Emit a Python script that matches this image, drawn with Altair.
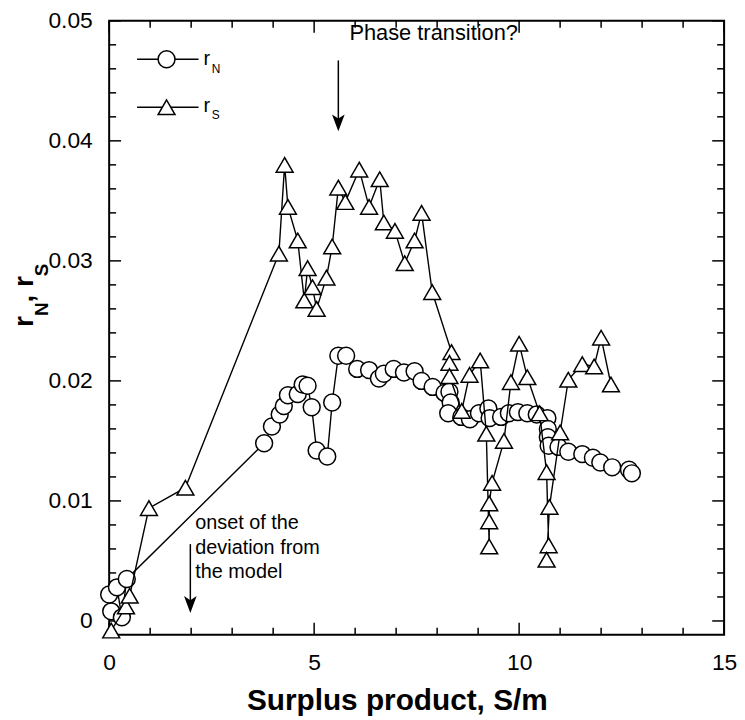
import altair as alt
import pandas as pd

# ---------------- data ----------------
rn_x = [0.05, 0.0, 0.19, 0.31, 0.43, 3.78, 3.97, 4.16, 4.26, 4.36, 4.6, 4.72, 4.84, 4.94, 5.06,
        5.32, 5.44, 5.59, 5.78, 6.05, 6.34, 6.58, 6.7, 6.94, 7.19, 7.45, 7.62, 7.89, 8.18, 8.3,
        8.33, 8.27, 8.59, 8.8, 9.02, 9.25, 9.28, 9.56, 9.75, 9.97, 10.2, 10.43, 10.69, 10.7, 10.7,
        10.72, 10.96, 11.2, 11.54, 11.8, 11.98, 12.27, 12.68, 12.75]
rn_y = [0.0008, 0.0022, 0.0028, 0.0003, 0.0035, 0.0148, 0.0162, 0.0172, 0.0179, 0.0188, 0.0189,
        0.0197, 0.0196, 0.0178, 0.0142, 0.0137, 0.0182, 0.0221, 0.0221, 0.0210, 0.0209, 0.0202,
        0.0206, 0.0210, 0.0207, 0.0208, 0.0200, 0.0195, 0.0190, 0.0191, 0.0182, 0.0173, 0.0170,
        0.0168, 0.0173, 0.0177, 0.0169, 0.0170, 0.0173, 0.0174, 0.0173, 0.0172, 0.0169, 0.0160,
        0.0153, 0.0146, 0.0145, 0.0141, 0.0139, 0.0136, 0.0132, 0.0128, 0.0126, 0.0123]

rs_x = [0.05, 0.41, 0.5, 0.97, 1.86, 4.14, 4.28, 4.36, 4.6, 4.76, 4.84, 4.96, 5.06, 5.3, 5.44,
        5.59, 5.76, 6.1, 6.34, 6.6, 6.7, 6.97, 7.21, 7.45, 7.62, 7.88, 8.35, 8.3, 8.3, 8.6,
        8.79, 9.05, 9.2, 9.27, 9.27, 9.27, 9.34, 9.63, 9.8, 10.0, 10.2, 10.5, 10.67, 10.72, 10.67,
        10.74, 11.0, 11.2, 11.54, 11.83, 12.0, 12.24]
rs_y = [-0.0008, 0.0012, 0.0021, 0.0094, 0.0111, 0.0306, 0.0380, 0.0345, 0.0317, 0.0267, 0.0294,
        0.0278, 0.0260, 0.0286, 0.0312, 0.0361, 0.0349, 0.0376, 0.0345, 0.0368, 0.0332, 0.0325,
        0.0298, 0.0317, 0.0340, 0.0274, 0.0224, 0.0215, 0.0204, 0.0175, 0.0205, 0.0217, 0.0156,
        0.0062, 0.0083, 0.0098, 0.0115, 0.0150, 0.0199, 0.0231, 0.0203, 0.0173, 0.0124, 0.0063,
        0.0051, 0.0095, 0.0157, 0.0201, 0.0214, 0.0212, 0.0236, 0.0197]

x_major = [0, 5, 10, 15]
x_minor = [1, 2, 3, 4, 6, 7, 8, 9, 11, 12, 13, 14]
y_major = [0.0, 0.01, 0.02, 0.03, 0.04, 0.05]
y_minor = [0.002, 0.004, 0.006, 0.008, 0.012, 0.014, 0.016, 0.018, 0.022, 0.024, 0.026, 0.028,
           0.032, 0.034, 0.036, 0.038, 0.042, 0.044, 0.046, 0.048]

x_domain = [0, 15]
y_domain = [-0.00115, 0.05]

# annotations (data coordinates)
phase_text = ["Phase transition?"]
phase_pos = [5.86, 0.0490]
onset_lines = ["onset of the", "deviation from", "the model"]
onset_x = [2.1, 2.1, 2.1]
onset_y = [0.00765, 0.00560, 0.00355]
arrow_x = [5.59, 1.98]
arrow_top = [0.0467, 0.0064]
arrow_head = [0.0415, 0.00137]

legend_y = [0.0468, 0.0428]
legend_line_x = [0.68, 2.18]
legend_mark_x = 1.40
legend_r_x = 2.30
legend_sub_x = 2.50
legend_r_base = [0.0463, 0.0424]
legend_sub_base = [0.04565, 0.04185]
legend_sub = ["N", "S"]

ytitle_text = ["r", "N", ",", "r", "S"]
ytitle_x = [-1.86, -1.50, -1.86, -1.86, -1.50]
ytitle_y = [0.0245, 0.02541, 0.02654, 0.02782, 0.02872]
ytitle_fs = [28, 19, 28, 28, 19]

# ---------------- chart ----------------
FONT = "Liberation Sans"
W, H = 620, 619
xs = alt.Scale(domain=x_domain, nice=False, zero=False)
ys = alt.Scale(domain=y_domain, nice=False, zero=False)

X_AX = alt.Axis(values=x_major, format="d", ticks=False, domain=False, grid=False,
                labelFont=FONT, labelFontSize=23, labelColor="black", labelPadding=17,
                labelFlush=False,
                title="Surplus product, S/m", titleFont=FONT, titleFontSize=30,
                titleFontWeight="bold", titleColor="black", titlePadding=11,
                titleX=290, titleAlign="center")
Y_AX = alt.Axis(values=y_major, format=".2~f", ticks=False, domain=False, grid=False,
                labelFont=FONT, labelFontSize=23, labelColor="black", labelPadding=17,
                labelFlush=False, title=None)


def X(field):
    return alt.X(field, scale=xs, axis=X_AX)


def Y(field):
    return alt.Y(field, scale=ys, axis=Y_AX)


layers = []

# inward ticks on all four sides
for vals, ln in [(x_major, 12), (x_minor, 7)]:
    d = pd.DataFrame({"v": vals})
    layers.append(alt.Chart(d).mark_rule(color="black", strokeWidth=1.5).encode(
        x=X("v:Q"), y=alt.value(H), y2=alt.value(H - ln)))
    layers.append(alt.Chart(d).mark_rule(color="black", strokeWidth=1.5).encode(
        x=X("v:Q"), y=alt.value(0), y2=alt.value(ln)))
for vals, ln in [(y_major, 12), (y_minor, 7)]:
    d = pd.DataFrame({"v": vals})
    layers.append(alt.Chart(d).mark_rule(color="black", strokeWidth=1.5).encode(
        y=Y("v:Q"), x=alt.value(0), x2=alt.value(ln)))
    layers.append(alt.Chart(d).mark_rule(color="black", strokeWidth=1.5).encode(
        y=Y("v:Q"), x=alt.value(W), x2=alt.value(W - ln)))

rn_df = pd.DataFrame({"x": rn_x, "y": rn_y, "i": range(len(rn_x))})
rs_df = pd.DataFrame({"x": rs_x, "y": rs_y, "i": range(len(rs_x))})

# legend
leg_lines = pd.DataFrame({"x0": [legend_line_x[0]] * 2, "x1": [legend_line_x[1]] * 2,
                          "y": legend_y})
layers.append(alt.Chart(leg_lines).mark_rule(color="black", strokeWidth=1.5).encode(
    x=X("x0:Q"), x2="x1:Q", y=Y("y:Q")))


def series(df, shape, leg_y):
    out = [alt.Chart(df).mark_line(color="black", strokeWidth=1.4).encode(
        x=X("x:Q"), y=Y("y:Q"), order="i:Q")]
    pts = alt.Chart(df).mark_point(shape=shape, filled=True, fill="white", stroke="black",
                                   strokeWidth=1.5, size=290, opacity=1).encode(
        x=X("x:Q"), y=Y("y:Q"))
    leg = alt.Chart(pd.DataFrame({"x": [legend_mark_x], "y": [leg_y]})).mark_point(
        shape=shape, filled=True, fill="white", stroke="black", strokeWidth=1.5,
        size=290, opacity=1).encode(x=X("x:Q"), y=Y("y:Q"))
    return out + [pts, leg]


layers += series(rn_df, "circle", legend_y[0])
layers += series(rs_df, "triangle-up", legend_y[1])

leg_r = pd.DataFrame({"x": [legend_r_x] * 2, "y": legend_r_base, "t": ["r", "r"]})
layers.append(alt.Chart(leg_r).mark_text(align="left", baseline="alphabetic", font=FONT,
                                         fontSize=20, color="black").encode(
    x=X("x:Q"), y=Y("y:Q"), text="t:N"))
leg_s = pd.DataFrame({"x": [legend_sub_x] * 2, "y": legend_sub_base, "t": legend_sub})
layers.append(alt.Chart(leg_s).mark_text(align="left", baseline="alphabetic", font=FONT,
                                         fontSize=12, color="black").encode(
    x=X("x:Q"), y=Y("y:Q"), text="t:N"))

# annotations
ph = pd.DataFrame({"x": [phase_pos[0]], "y": [phase_pos[1]], "t": phase_text})
layers.append(alt.Chart(ph).mark_text(align="left", baseline="middle", font=FONT,
                                      fontSize=22, color="black").encode(
    x=X("x:Q"), y=Y("y:Q"), text="t:N"))
on = pd.DataFrame({"x": onset_x, "y": onset_y, "t": onset_lines})
layers.append(alt.Chart(on).mark_text(align="left", baseline="alphabetic", font=FONT,
                                      fontSize=20, color="black").encode(
    x=X("x:Q"), y=Y("y:Q"), text="t:N"))
arr = pd.DataFrame({"x": arrow_x, "y": arrow_top, "y2": arrow_head})
layers.append(alt.Chart(arr).mark_rule(color="black", strokeWidth=1.5).encode(
    x=X("x:Q"), y=Y("y:Q"), y2="y2:Q"))
layers.append(alt.Chart(arr).mark_point(
    shape="M0,1 L-0.75,-1 L0,-0.5 L0.75,-1 Z", filled=True, color="black",
    size=289, opacity=1).encode(x=X("x:Q"), y=Y("y2:Q")))

# y-axis title built from pieces (with subscripts)
yt = pd.DataFrame({"x": ytitle_x, "y": ytitle_y, "t": ytitle_text, "fs": ytitle_fs})
layers.append(alt.Chart(yt).mark_text(align="left", baseline="alphabetic", angle=270,
                                      font=FONT, fontWeight="bold", color="black").encode(
    x=X("x:Q"), y=Y("y:Q"), text="t:N", size=alt.Size("fs:Q", scale=None, legend=None)))

chart = alt.layer(*layers).properties(
    width=W, height=H,
    autosize=alt.AutoSizeParams(type="none"),
    padding={"left": 102, "top": 10, "right": 13, "bottom": 80},
).configure_view(stroke="black", strokeWidth=2)

chart.save("out.html", embed_options={"renderer": "svg", "actions": False})
